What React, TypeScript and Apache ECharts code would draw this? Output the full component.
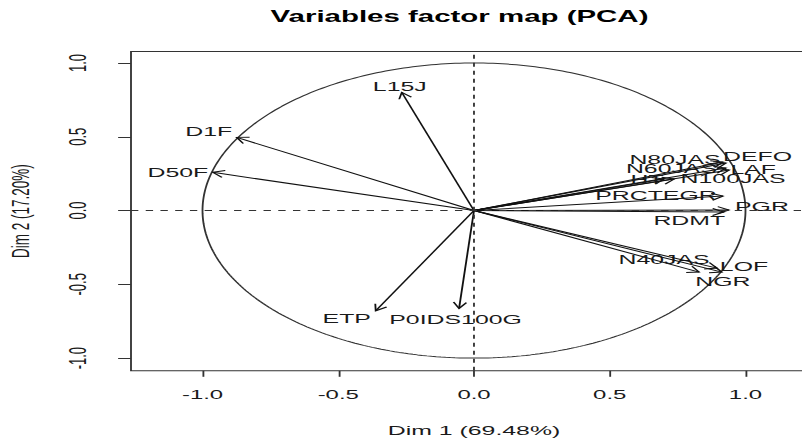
import React, { useEffect, useRef } from "react";
import * as echarts from "echarts";

// ---- data ----
const VAR_NAMES = [
  "L15J", "D1F", "D50F", "ETP", "P0IDS100G", "DEFO", "N80JAS", "N60JAS", "LAF",
  "HT", "N100JAS", "PRCTEGR", "PGR", "RDMT", "N40JAS", "LOF", "NGR",
];
const DIM1 = [-0.266, -0.874, -0.962, -0.362, -0.055, 0.928, 0.917, 0.928, 0.94,
  0.7, 0.737, 0.917, 0.939, 0.92, 0.829, 0.895, 0.913];
const DIM2 = [0.801, 0.496, 0.259, -0.679, -0.663, 0.322, 0.329, 0.288, 0.275,
  0.214, 0.214, 0.098, 0.003, -0.01, -0.417, -0.39, -0.417];
const TICKS = [-1, -0.5, 0, 0.5, 1];
const TITLE = "Variables factor map (PCA)";
const X_NAME = "Dim 1 (69.48%)";
const Y_NAME = "Dim 2 (17.20%)";

// ---- style / layout ----
// label centre offset from arrow tip, in screen px (after horizontal stretch)
const LABEL_OFFSETS: [number, number][] = [
  [-2, -6], [-28, -6], [-35, 0], [-29, 8], [-3.5, 11], [31.5, -7], [-48, -3],
  [-54.5, 0.5], [24, -1], [-17, 0], [59, -0.5], [-67, -1], [33, -4], [-34.5, 8],
  [-35, -13], [27, -2], [1, 9],
];
const SX = 1.8407; // horizontal stretch of the reference image
const W_LOCAL = 446;
const H = 439;
const XR = 1.2634;
const FONT = '"Liberation Sans", Arial, sans-serif';
const INK = "#1a1a1a";

export default function App() {
  const ref = useRef<HTMLDivElement>(null);
  useEffect(() => {
    if (!ref.current) return;
    const chart = echarts.init(ref.current, null, { renderer: "svg" });
    const circle: number[][] = [];
    for (let i = 0; i <= 360; i++) {
      const t = (i * Math.PI) / 180;
      circle.push([Math.cos(t), Math.sin(t)]);
    }
    const varData = VAR_NAMES.map((n, i) => [DIM1[i], DIM2[i], i]);
    const gridLeft = 131 / SX;
    const gridRight = W_LOCAL - 817 / SX;
    chart.setOption({
      animation: false,
      backgroundColor: "#ffffff",
      textStyle: { fontFamily: FONT },
      grid: {
        left: gridLeft,
        right: gridRight,
        top: 51.5,
        bottom: H - 370.8,
        containLabel: false,
        outerBoundsMode: "none",
        show: true,
        borderColor: "#333",
        borderWidth: 1,
        backgroundColor: "transparent",
      },
      graphic: [
        {
          type: "text",
          x: 459.5 / SX,
          y: 9,
          style: {
            text: TITLE,
            font: `bold 16px ${FONT}`,
            fill: "#000",
            align: "center",
            verticalAlign: "top",
          },
        },
      ],
      xAxis: {
        type: "value",
        min: -XR,
        max: XR,
        splitLine: { show: false },
        axisLine: { show: false, onZero: false },
        axisTick: {
          show: true,
          customValues: TICKS,
          length: 6,
          lineStyle: { color: "#333" },
        },
        axisLabel: {
          customValues: TICKS,
          formatter: (v: number) => v.toFixed(1),
          margin: 17,
          fontSize: 13,
          color: INK,
          fontFamily: FONT,
        },
        name: X_NAME,
        nameLocation: "middle",
        nameGap: 52,
        nameTextStyle: { fontSize: 13.5, color: INK, fontFamily: FONT },
      },
      yAxis: {
        type: "value",
        min: -1.086,
        max: 1.078,
        splitLine: { show: false },
        axisLine: { show: false, onZero: false },
        axisTick: {
          show: true,
          customValues: TICKS,
          length: 7,
          lineStyle: { color: "#333" },
        },
        axisLabel: {
          customValues: TICKS,
          formatter: (v: number) => v.toFixed(1),
          rotate: 90,
          margin: 22.5,
          fontSize: 13,
          color: INK,
          fontFamily: FONT,
        },
        name: Y_NAME,
        nameLocation: "middle",
        nameGap: 53,
        nameTextStyle: { fontSize: 13.5, color: INK, fontFamily: FONT },
      },
      series: [
        {
          type: "line",
          data: circle,
          showSymbol: false,
          symbol: "none",
          lineStyle: { color: "#333", width: 1 },
          silent: true,
          z: 1,
          markLine: {
            silent: true,
            symbol: "none",
            label: { show: false },
            lineStyle: { type: [4, 4], color: "#333", width: 1 },
            data: [{ xAxis: 0 }, { yAxis: 0 }],
          },
        },
        {
          type: "custom",
          data: varData,
          clip: false,
          z: 3,
          renderItem: (params: any, api: any) => {
            const i = api.value(2);
            const p0 = api.coord([0, 0]);
            const p1 = api.coord([api.value(0), api.value(1)]);
            const ang = Math.atan2(p1[1] - p0[1], p1[0] - p0[0]);
            const L = 7;
            const a = Math.PI / 6;
            const h1 = [p1[0] - L * Math.cos(ang - a), p1[1] - L * Math.sin(ang - a)];
            const h2 = [p1[0] - L * Math.cos(ang + a), p1[1] - L * Math.sin(ang + a)];
            const off = LABEL_OFFSETS[i];
            return {
              type: "group",
              children: [
                {
                  type: "line",
                  shape: { x1: p0[0], y1: p0[1], x2: p1[0], y2: p1[1] },
                  style: { stroke: "#111", lineWidth: 1 },
                },
                {
                  type: "polyline",
                  shape: { points: [h1, p1, h2] },
                  style: { stroke: "#111", fill: "none", lineWidth: 1 },
                },
                {
                  type: "text",
                  x: p1[0] + off[0] / SX,
                  y: p1[1] + off[1],
                  style: {
                    text: VAR_NAMES[i],
                    font: `13.5px ${FONT}`,
                    fill: INK,
                    align: "center",
                    verticalAlign: "middle",
                  },
                },
              ],
            };
          },
        },
      ],
    });
    return () => chart.dispose();
  }, []);
  return (
    <div
      style={{
        position: "fixed",
        left: 0,
        top: 0,
        width: 802,
        height: H,
        overflow: "hidden",
        background: "#fff",
      }}
    >
      <div
        ref={ref}
        style={{
          width: W_LOCAL,
          height: H,
          transform: `scaleX(${SX})`,
          transformOrigin: "0 0",
        }}
      />
    </div>
  );
}
